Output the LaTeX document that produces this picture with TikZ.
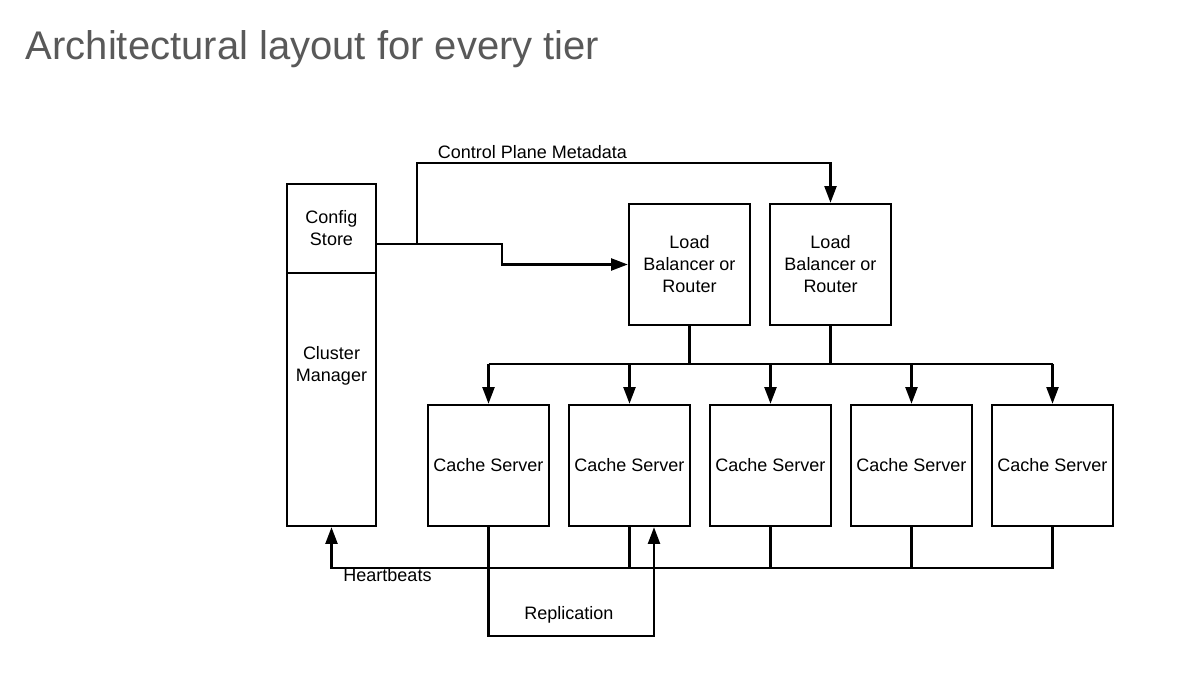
\documentclass[tikz,border=0pt]{standalone}
\usepackage{fontspec}
\setmainfont{Liberation Sans}
\usetikzlibrary{arrows.meta}
\definecolor{titlegray}{HTML}{595959}

\begin{document}
\begin{tikzpicture}[
    line width=1.7pt,
    font=\fontsize{12.8pt}{15.6pt}\selectfont,
    box/.style={draw, minimum width=3.025cm, minimum height=3.025cm, align=center, inner sep=0pt},
    arr/.style={-{Triangle[length=0.42cm, width=0.3cm]}}
]
    \useasboundingbox (0,0) rectangle (29.95,17.05);

    \node[anchor=base west, text=titlegray, font=\fontsize{28.45pt}{34pt}\selectfont] (title) at (0.5,15.55) {Architectural layout for every tier};

    \node[draw, minimum width=2.225cm, minimum height=2.225cm, align=center, inner sep=0pt] (cs) at (8.2875,11.3375) {Config\\Store};
    \node[draw, minimum width=2.225cm, minimum height=6.325cm, inner sep=0pt] (cmgr) at (8.2875,7.0625) {};
    \node[align=center] (cmgrtext) at (8.2875,7.9) {Cluster\\Manager};

    \node[box] (lb1) at (17.2375,10.4375) {Load\\Balancer or\\Router};
    \node[box] (lb2) at (20.7625,10.4375) {Load\\Balancer or\\Router};

    \foreach \i in {1,...,5}
        \node[box] (c\i) at (12.2125+3.525*\i-3.525,5.4125) {Cache Server};

    \coordinate (cpout) at (9.4,10.95);
    \coordinate (cpsplit) at (10.425,10.95);
    \coordinate (bus) at (0,7.95);
    \coordinate (hb) at (0,2.85);
    \coordinate (rep) at (0,1.15);
    \coordinate (repin) at ([xshift=0.6125cm]c2.south);

    \draw[arr] (cpout) -- (12.55,10.95) |- (lb1.west);
    \draw[arr] (cpsplit) -- (10.425,12.975) -| (lb2.north);
    \node[anchor=west] (cpm) at (10.8,13.25) {Control Plane Metadata};

    \draw (lb1.south) -- (lb1.south |- bus);
    \draw (lb2.south) -- (lb2.south |- bus);
    \draw (c1.north |- bus) -- (c5.north |- bus);
    \foreach \i in {1,...,5}
        \draw[arr] (c\i.north |- bus) -- (c\i.north);

    \draw[arr] (c5.south) -- (c5.south |- hb) -- (cmgr.south |- hb) -- (cmgr.south);
    \foreach \i in {2,3,4}
        \draw (c\i.south) -- (c\i.south |- hb);
    \node (hbtext) at (9.6875,2.675) {Heartbeats};

    \draw[arr] (c1.south) -- (c1.south |- rep) -- (repin |- rep) -- (repin);
    \node (reptext) at (14.225,1.675) {Replication};
\end{tikzpicture}
\end{document}
